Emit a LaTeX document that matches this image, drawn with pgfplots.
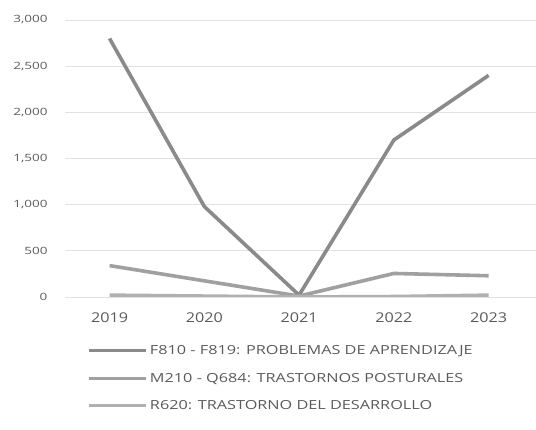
\documentclass[border=0pt]{standalone}
\usepackage{pgfplots}
\pgfplotsset{compat=1.18}
\usepackage{fontspec}
\setmainfont{Open Sans}[FakeStretch=1.2]
\newfontfamily\legfont{Open Sans}[FakeStretch=1.3]
\newfontfamily\ytfont{Open Sans}[FakeStretch=1.35]
\definecolor{sA}{HTML}{8A8A8A}
\definecolor{sB}{HTML}{A0A0A0}
\definecolor{sC}{HTML}{B0B0B0}
\definecolor{txt}{HTML}{5A5A5A}
\definecolor{grd}{HTML}{E2E2E2}
\begin{document}
\begin{tikzpicture}
\path[use as bounding box] (0,0) rectangle (536pt,430pt);
\begin{axis}[
  at={(65pt,133pt)}, anchor=south west,
  scale only axis, width=471pt, height=277pt,
  xmin=-0.47, xmax=4.5, ymin=0, ymax=3000,
  axis line style={draw=none},
  tick style={draw=none},
  ymajorgrids, grid style={grd, line width=0.8pt},
  ytick={0,500,1000,1500,2000,2500,3000},
  xtick={0,1,2,3,4},
  xticklabels={2019,2020,2021,2022,2023},
  /pgf/number format/assume math mode=true,
  /pgf/number format/1000 sep={,},
  yticklabel style={font=\ytfont\fontsize{10}{11}\selectfont, color=txt, xshift=-14pt},
  xticklabel style={font=\fontsize{13.5}{14}\selectfont, color=txt, yshift=-12pt},
  legend style={at={(0.042,-0.16)}, anchor=north west, draw=none, fill=none,
    font=\legfont\fontsize{12.5}{13}\selectfont, text=txt, row sep=13pt,
    cells={anchor=west}},
  legend cell align=left,
  legend image code/.code={\draw[#1, line width=3pt] (0pt,0pt) -- (57pt,0pt);},
  every axis plot/.append style={line width=3.6pt, line join=round},
]
\addplot[sA] coordinates {(0,2800) (1,980) (2,20) (3,1700) (4,2400)};
\addlegendentry{F810 - F819: PROBLEMAS DE APRENDIZAJE}
\addplot[sB] coordinates {(0,340) (1,175) (2,10) (3,255) (4,230)};
\addlegendentry{M210 - Q684: TRASTORNOS POSTURALES}
\addplot[sC] coordinates {(0,20) (1,10) (2,0) (3,5) (4,20)};
\addlegendentry{R620: TRASTORNO DEL DESARROLLO}
\end{axis}
\end{tikzpicture}
\end{document}
